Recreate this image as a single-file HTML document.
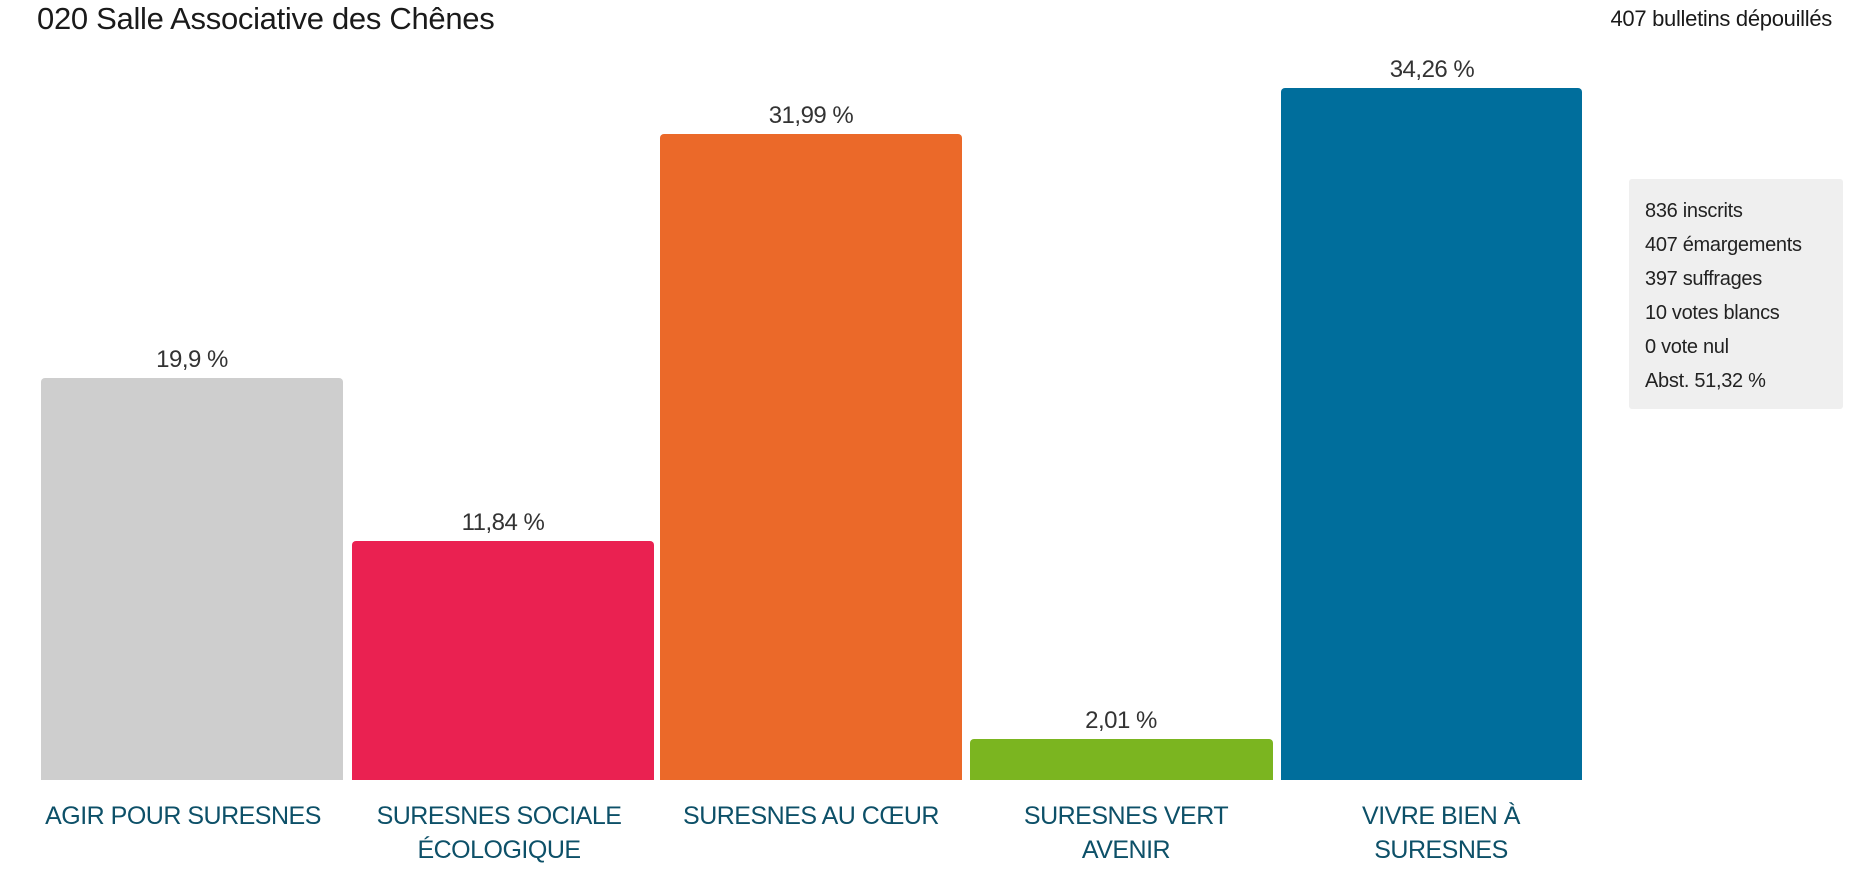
<!DOCTYPE html>
<html><head><meta charset="utf-8"><style>
body{margin:0;width:1858px;height:873px;background:#fff;position:relative;overflow:hidden;font-family:"Liberation Sans",sans-serif;color:#222}
.a{position:absolute}
.bar{position:absolute;border-radius:4px 4px 0 0}
.v{position:absolute;width:302px;text-align:center;font-size:24px;color:#333;letter-spacing:-0.5px}
.l{position:absolute;width:302px;text-align:center;font-size:25px;line-height:34px;color:#0d5068;top:799px;letter-spacing:-0.5px;white-space:nowrap}
.s{font-size:20px;line-height:34px;color:#222;letter-spacing:-0.3px}
</style></head><body>
<div class="a" style="left:37px;top:1px;font-size:31px;letter-spacing:-0.3px;color:#1a1a1a">020 Salle Associative des Chênes</div>
<div class="a" style="right:26px;top:6px;font-size:22px;letter-spacing:-0.3px;color:#1a1a1a">407 bulletins dépouillés</div>

<div class="bar" style="left:41px;width:302px;top:378px;height:402px;background:#cecece"></div>
<div class="bar" style="left:352px;width:302px;top:541px;height:239px;background:#ea2151"></div>
<div class="bar" style="left:660px;width:302px;top:134px;height:646px;background:#eb6929"></div>
<div class="bar" style="left:970px;width:303px;top:739px;height:41px;background:#7bb520"></div>
<div class="bar" style="left:1281px;width:301px;top:88px;height:692px;background:#006e9c"></div>

<div class="v" style="left:41px;top:346px">19,9 %</div>
<div class="v" style="left:352px;top:509px">11,84 %</div>
<div class="v" style="left:660px;top:102px">31,99 %</div>
<div class="v" style="left:970px;top:707px">2,01 %</div>
<div class="v" style="left:1281px;top:56px">34,26 %</div>

<div class="l" style="left:32px">AGIR POUR SURESNES</div>
<div class="l" style="left:348px">SURESNES SOCIALE<br>ÉCOLOGIQUE</div>
<div class="l" style="left:660px">SURESNES AU CŒUR</div>
<div class="l" style="left:975px">SURESNES VERT<br>AVENIR</div>
<div class="l" style="left:1290px">VIVRE BIEN À<br>SURESNES</div>

<div class="a" style="left:1629px;top:179px;width:214px;height:230px;background:#efefef;border-radius:3px">
<div class="s" style="padding:15px 0 0 16px">836 inscrits<br>407 émargements<br>397 suffrages<br>10 votes blancs<br>0 vote nul<br>Abst. 51,32 %</div>
</div>
</body></html>
